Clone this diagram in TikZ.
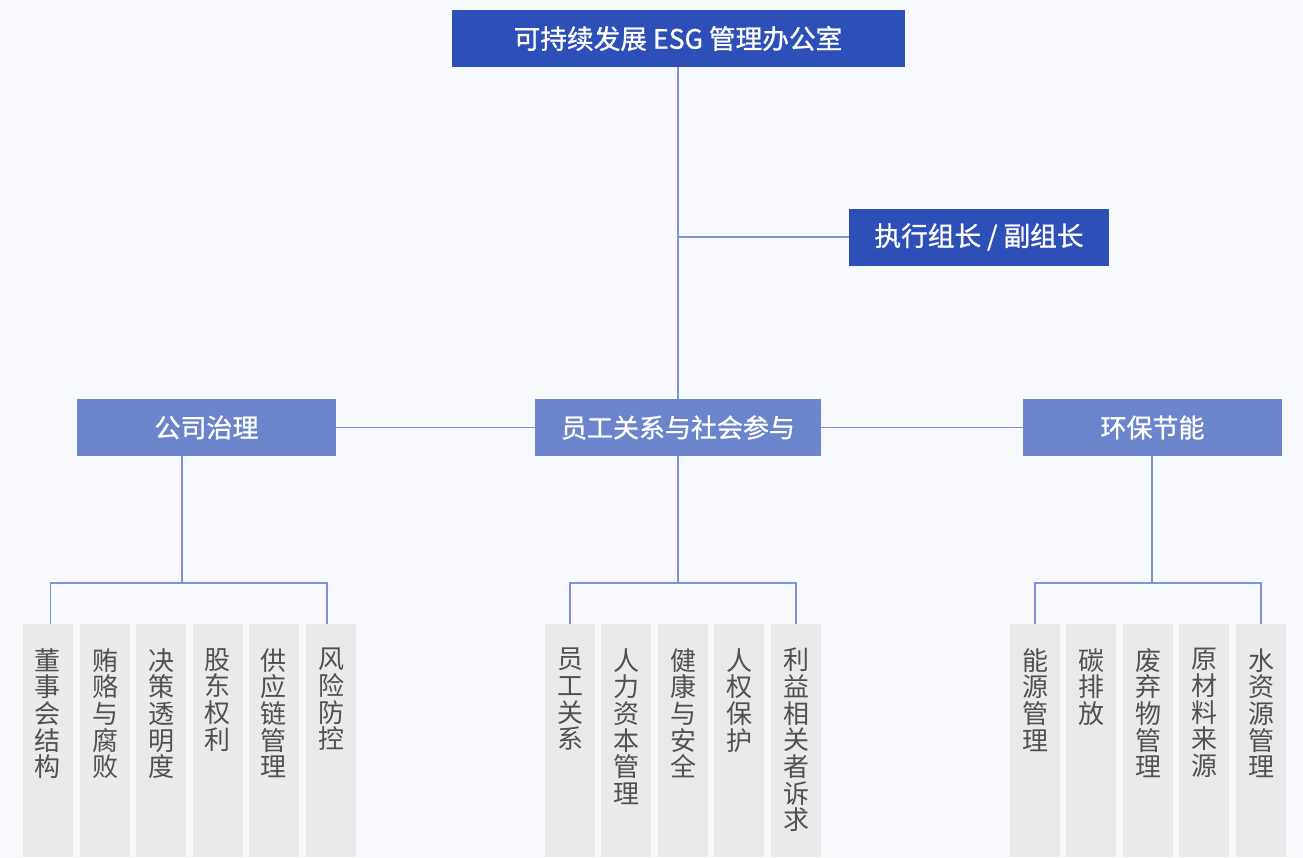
\documentclass[tikz,border=0pt]{standalone}
\usepackage{fontspec}
\setmainfont{Noto Sans CJK SC}
\newfontfamily\headfont{Noto Sans CJK SC}[FakeBold=1]
\usetikzlibrary{positioning}

\definecolor{bgc}{HTML}{F8F9FD}
\definecolor{topblue}{HTML}{2D4FB8}
\definecolor{midblue}{HTML}{6A85CC}
\definecolor{linec}{HTML}{7B93D8}
\definecolor{leafgray}{HTML}{E9EAEA}
\definecolor{leaftxt}{HTML}{505050}

\tikzset{
    headbox/.style={rectangle,fill=topblue,text=white,inner sep=0pt,
        minimum height=57*0.75pt,font=\headfont\fontsize{20pt}{22pt}\selectfont},
    groupbox/.style={rectangle,fill=midblue,text=white,inner sep=0pt,
        minimum width=259*0.75pt,minimum height=57*0.75pt,font=\headfont\fontsize{19.5pt}{22pt}\selectfont},
    leaftext/.style={anchor=north,inner sep=0pt,yshift=-18pt,align=center,
        text=leaftxt,font=\fontsize{19.5pt}{20pt}\selectfont},
    leaf/.style={rectangle,fill=leafgray,anchor=north,inner sep=0pt,
        minimum width=50*0.75pt,minimum height=233*0.75pt,
        label={[leaftext]north:#1}},
    conn/.style={draw=linec,line width=1pt}
}

\begin{document}
\begin{tikzpicture}[x=0.75pt,y=-0.75pt]
            \fill[bgc] (0,0) rectangle (1303,857);
            \useasboundingbox (0,0) rectangle (1303,857);

            \node[headbox,minimum width=453*0.75pt] (office) at (678,38.5) {可持续发展 ESG 管理办公室};
            \node[headbox,minimum width=260*0.75pt] (lead) at (979,237) {执行组长 / 副组长};

            \node[groupbox] (gov) at (206.5,427.5) {公司治理};
            \node[groupbox,minimum width=286*0.75pt] (soc) at (678,427.5) {员工关系与社会参与};
            \node[groupbox] (env) at (1152.5,427.5) {环保节能};

            % governance
            \node[leaf={董\\事\\会\\结\\构}] (g1) at (47.5,624) {};
            \node[leaf={贿\\赂\\与\\腐\\败}] (g2) at (105,624) {};
            \node[leaf={决\\策\\透\\明\\度}] (g3) at (161,624) {};
            \node[leaf={股\\东\\权\\利}] (g4) at (217.5,624) {};
            \node[leaf={供\\应\\链\\管\\理}] (g5) at (273.5,624) {};
            \node[leaf={风\\险\\防\\控}] (g6) at (331,624) {};

            % social
            \node[leaf={员\\工\\关\\系}] (s1) at (570,624) {};
            \node[leaf={人\\力\\资\\本\\管\\理}] (s2) at (626,624) {};
            \node[leaf={健\\康\\与\\安\\全}] (s3) at (683,624) {};
            \node[leaf={人\\权\\保\\护}] (s4) at (739,624) {};
            \node[leaf={利\\益\\相\\关\\者\\诉\\求}] (s5) at (796,624) {};

            % environment
            \node[leaf={能\\源\\管\\理}] (e1) at (1035,624) {};
            \node[leaf={碳\\排\\放}] (e2) at (1091,624) {};
            \node[leaf={废\\弃\\物\\管\\理}] (e3) at (1148,624) {};
            \node[leaf={原\\材\\料\\来\\源}] (e4) at (1204,624) {};
            \node[leaf={水\\资\\源\\管\\理}] (e5) at (1261,624) {};

            \coordinate (leadj) at (678,237);
            \coordinate (govj) at (182,583);
            \coordinate (socj) at (678,583);
            \coordinate (envj) at (1152,583);

            \path [conn] (office) edge (soc);
            \path [conn] (leadj) edge (lead.west);
            \path [conn] (gov) edge (soc);
            \path [conn] (soc) edge (env);

            \path [conn] (govj |- gov.south) edge (govj);
            \path [conn] (socj |- soc.south) edge (socj);
            \path [conn] (envj |- env.south) edge (envj);

            \draw [conn] ([xshift=2pt]g1.north) |- (govj) -| ([xshift=-3pt]g6.north);
            \draw [conn] (s1.north) |- (socj) -| (s5.north);
            \draw [conn] (e1.north) |- (envj) -| (e5.north);
        \end{tikzpicture}
\end{document}
